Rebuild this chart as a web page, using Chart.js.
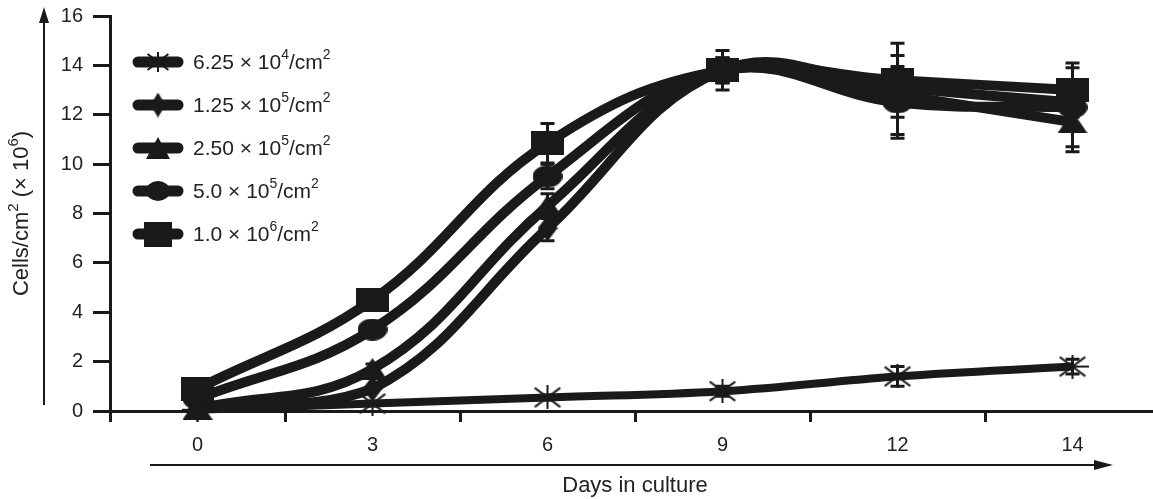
<!DOCTYPE html>
<html>
<head>
<meta charset="utf-8">
<title>Cells/cm2 vs days in culture</title>
<script src="https://cdn.jsdelivr.net/npm/chart.js"></script>
<style>
  html, body { margin: 0; padding: 0; background: #fff; overflow: hidden; }
  canvas { display: block; }
</style>
</head>
<body>
<canvas id="grafico" width="1160" height="499"></canvas>
<script>
// days on the x axis (evenly spaced categories)
const days = ['0', '3', '6', '9', '12', '14'];

// seeding densities
const seriesNames = ['6.25 × 10⁴/cm²', '1.25 × 10⁵/cm²', '2.50 × 10⁵/cm²', '5.0 × 10⁵/cm²', '1.0 × 10⁶/cm²'];
const yTitle = 'Cells/cm² (× 10⁶)';

// cells/cm2 (x 10^6)
const cells625e4 = [0.05, 0.3, 0.55, 0.8, 1.4, 1.8];
const cells125e5 = [0.1, 0.9, 7.4, 13.8, 13.1, 12.5];
const cells250e5 = [0.1, 1.7, 8.3, 13.8, 12.8, 11.7];
const cells50e5  = [0.5, 3.3, 9.5, 13.8, 12.5, 12.3];
const cells10e6  = [0.9, 4.5, 10.85, 13.8, 13.4, 13.0];

// error bars (+/-)
const err625e4 = [0, 0.1, 0.1, 0.2, 0.4, 0.3];
const err125e5 = [0, 0, 0.5, 0.5, 0.6, 0.5];
const err250e5 = [0, 0.2, 0.5, 0.5, 1.6, 1.2];
const err50e5  = [0, 0.2, 0.5, 0.5, 1.45, 1.6];
const err10e6  = [0, 0.2, 0.8, 0.8, 1.5, 1.1];

const ink = '#1a1a1a';
const fam = '"Liberation Sans", Arial, "DejaVu Sans", sans-serif';

// marker images (the printed markers are a bit wider than tall)
function makeMarker(kind, w, h) {
    const c = document.createElement('canvas');
    c.width = w; c.height = h;
    const g = c.getContext('2d');
    g.fillStyle = ink; g.strokeStyle = ink;
    g.beginPath();
    if (kind === 'square') {
        g.rect(0, 0, w, h);
    } else if (kind === 'circle') {
        g.ellipse(w / 2, h / 2, w / 2, h / 2, 0, 0, Math.PI * 2);
    } else if (kind === 'triangle') {
        g.moveTo(w / 2, 0); g.lineTo(w, h); g.lineTo(0, h); g.closePath();
    } else if (kind === 'diamond') {
        g.moveTo(w / 2, 0); g.lineTo(w, h / 2); g.lineTo(w / 2, h); g.lineTo(0, h / 2); g.closePath();
    } else if (kind === 'star') {
        g.lineWidth = 2;
        g.moveTo(0, h / 2); g.lineTo(w, h / 2);
        g.moveTo(w / 2, 0); g.lineTo(w / 2, h);
        g.moveTo(w * 0.1, h * 0.1); g.lineTo(w * 0.9, h * 0.9);
        g.moveTo(w * 0.9, h * 0.1); g.lineTo(w * 0.1, h * 0.9);
        g.stroke();
        return c;
    }
    g.fill();
    return c;
}

const plotMarks = [
    makeMarker('star', 32, 24),
    makeMarker('diamond', 20, 26),
    makeMarker('triangle', 30, 22),
    makeMarker('circle', 30, 22),
    makeMarker('square', 33, 24)
];
const legendMarks = [
    makeMarker('star', 26, 20),
    makeMarker('diamond', 15, 25),
    makeMarker('triangle', 24, 22),
    makeMarker('circle', 24, 20),
    makeMarker('square', 28, 25)
];

// text with superscript digits drawn smaller and raised
const supMap = {'⁰': '0', '¹': '1', '²': '2', '³': '3', '⁴': '4', '⁵': '5', '⁶': '6', '⁷': '7', '⁸': '8', '⁹': '9'};
function richWidth(ctx, text, size) {
    let w = 0;
    for (const ch of text) {
        ctx.font = (supMap[ch] ? Math.round(size * 0.66) : size) + 'px ' + fam;
        w += ctx.measureText(supMap[ch] || ch).width;
    }
    return w;
}
function drawRich(ctx, text, x, y, size) {
    ctx.textBaseline = 'middle';
    ctx.textAlign = 'left';
    ctx.fillStyle = '#222';
    let run = '';
    const flush = () => {
        if (!run) return;
        ctx.font = size + 'px ' + fam;
        ctx.fillText(run, x, y);
        x += ctx.measureText(run).width;
        run = '';
    };
    for (const ch of text) {
        if (supMap[ch]) {
            flush();
            ctx.font = Math.round(size * 0.66) + 'px ' + fam;
            ctx.fillText(supMap[ch], x, y - size * 0.36);
            x += ctx.measureText(supMap[ch]).width;
        } else {
            run += ch;
        }
    }
    flush();
}

// legend inside the plot, line + marker + label
const sideLegend = {
    id: 'sideLegend',
    afterDraw(chart) {
        const {ctx, chartArea} = chart;
        chart.data.datasets.forEach((ds, i) => {
            const y = chartArea.top + 46 + i * 43;
            const x0 = chartArea.left + 28;
            ctx.save();
            ctx.strokeStyle = ink;
            ctx.lineWidth = 11;
            ctx.lineCap = 'round';
            ctx.beginPath();
            ctx.moveTo(x0, y);
            ctx.lineTo(x0 + 40, y);
            ctx.stroke();
            const m = legendMarks[i];
            ctx.drawImage(m, x0 + 20 - m.width / 2, y - m.height / 2);
            drawRich(ctx, ds.label, x0 + 55, y + 1, 21);
            ctx.restore();
        });
    }
};

// rotated y title with real superscripts
const yAxisTitle = {
    id: 'yAxisTitle',
    afterDraw(chart) {
        const {ctx, chartArea} = chart;
        const size = 22;
        const w = richWidth(ctx, yTitle, size);
        ctx.save();
        ctx.translate(22, (chartArea.top + chartArea.bottom) / 2);
        ctx.rotate(-Math.PI / 2);
        drawRich(ctx, yTitle, -w / 2, 0, size);
        ctx.restore();
    }
};

// error bars with caps
const errorBars = {
    id: 'errorBars',
    afterDatasetsDraw(chart) {
        const {ctx} = chart;
        const ys = chart.scales.y;
        ctx.save();
        ctx.strokeStyle = ink;
        ctx.lineWidth = 3;
        chart.data.datasets.forEach((ds, i) => {
            const meta = chart.getDatasetMeta(i);
            ds.errors.forEach((e, j) => {
                if (!e) return;
                const px = meta.data[j].x;
                const top = ys.getPixelForValue(ds.data[j] + e);
                const bot = ys.getPixelForValue(ds.data[j] - e);
                ctx.beginPath();
                ctx.moveTo(px, top); ctx.lineTo(px, bot);
                ctx.moveTo(px - 7, top); ctx.lineTo(px + 7, top);
                ctx.moveTo(px - 7, bot); ctx.lineTo(px + 7, bot);
                ctx.stroke();
            });
        });
        ctx.restore();
    }
};

// the two arrows beside the axes
const axisArrows = {
    id: 'axisArrows',
    afterDraw(chart) {
        const {ctx, chartArea} = chart;
        const ax = chartArea.left - 66;
        const ay = chartArea.bottom + 54;
        ctx.save();
        ctx.strokeStyle = ink; ctx.fillStyle = ink; ctx.lineWidth = 2;
        ctx.beginPath();
        ctx.moveTo(ax, chartArea.bottom - 6); ctx.lineTo(ax, chartArea.top + 2);
        ctx.moveTo(chartArea.left + 40, ay); ctx.lineTo(chartArea.left + 990, ay);
        ctx.stroke();
        ctx.beginPath();
        ctx.moveTo(ax, chartArea.top - 9); ctx.lineTo(ax - 5, chartArea.top + 7); ctx.lineTo(ax + 5, chartArea.top + 7);
        ctx.closePath(); ctx.fill();
        ctx.beginPath();
        ctx.moveTo(chartArea.left + 1003, ay); ctx.lineTo(chartArea.left + 984, ay - 5); ctx.lineTo(chartArea.left + 984, ay + 5);
        ctx.closePath(); ctx.fill();
        ctx.restore();
    }
};

const allCells = [cells625e4, cells125e5, cells250e5, cells50e5, cells10e6];
const allErrs = [err625e4, err125e5, err250e5, err50e5, err10e6];

const datasets = seriesNames.map((name, i) => ({
    label: name,
    data: allCells[i],
    errors: allErrs[i],
    borderColor: ink,
    backgroundColor: ink,
    borderWidth: i === 0 ? 8 : 10,
    tension: 0.4,
    pointStyle: plotMarks[i],
    pointRadius: 12,
    pointHoverRadius: 12,
    clip: false
}));

const ctx = document.getElementById('grafico').getContext('2d');
const myChart = new Chart(ctx, {
    type: 'line',
    data: { labels: days, datasets: datasets },
    plugins: [errorBars, sideLegend, yAxisTitle, axisArrows],
    options: {
        responsive: false,
        animation: false,
        layout: { autoPadding: false, padding: { top: 16, right: 0, bottom: 0, left: 0 } },
        plugins: {
            legend: { display: false },
            tooltip: { enabled: false }
        },
        scales: {
            x: {
                type: 'category',
                offset: true,
                afterFit: (s) => { s.height = 88; s.paddingRight = 0; s.paddingLeft = 0; },
                grid: { offset: true, drawOnChartArea: false, tickLength: 11, tickWidth: 3, tickColor: ink },
                border: { display: true, color: ink, width: 3 },
                ticks: { color: '#222', padding: 11, font: { family: fam, size: 20 } },
                title: {
                    display: true,
                    text: 'Days in culture',
                    color: '#222',
                    padding: { top: 0, bottom: 0 },
                    font: { family: fam, size: 22 }
                }
            },
            y: {
                min: 0,
                max: 16,
                afterFit: (s) => { s.width = 110; s.paddingTop = 0; s.paddingBottom = 0; },
                grid: { drawOnChartArea: false, tickLength: 17, tickWidth: 3, tickColor: ink },
                border: { display: true, color: ink, width: 3 },
                ticks: { stepSize: 2, color: '#222', padding: 10, font: { family: fam, size: 20 } }
            }
        }
    }
});
</script>
</body>
</html>
